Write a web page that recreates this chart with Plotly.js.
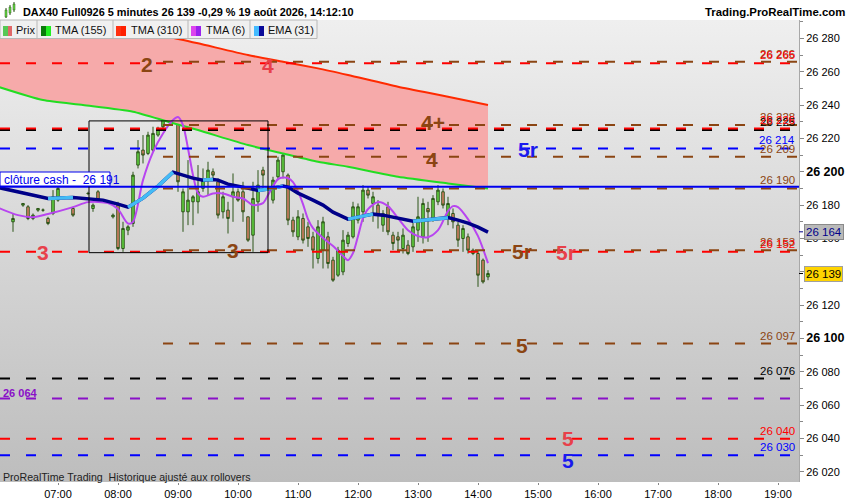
<!DOCTYPE html>
<html>
<head>
<meta charset="utf-8">
<script src="https://cdn.plot.ly/plotly-3.0.1.min.js"></script>
<style>
  html, body { margin: 0; padding: 0; background: #fff; }
  #chart { width: 850px; height: 500px; }
</style>
</head>
<body>
<div id="chart"></div>
<script>
const DAY = '2026-08-19 ';

// 5 minute bars, DAX40 Full0926
const barTimes = ['06:15','06:25','06:30','06:35','06:40','06:45','06:50','06:55','07:00','07:15',
	'07:30','07:35','07:40','07:55','08:00','08:05','08:10','08:15','08:20','08:25',
	'08:30','08:35','08:40','08:45','08:50','08:55','09:00','09:05','09:10','09:15',
	'09:20','09:25','09:30','09:35','09:40','09:45','09:50','09:55','10:00','10:05',
	'10:10','10:15','10:20','10:25','10:35','10:40','10:45','10:50','10:55','11:00',
	'11:05','11:10','11:15','11:20','11:25','11:30','11:35','11:40','11:45','11:50',
	'11:55','12:00','12:05','12:10','12:15','12:20','12:25','12:30','12:35','12:40',
	'12:45','12:50','12:55','13:00','13:05','13:10','13:15','13:20','13:25','13:30',
	'13:35','13:40','13:45','13:50','13:55','14:00','14:05','14:10'];
const barOpen = [26170,26180,26179,26172,26177,26177,26172,26175,26183,26178,
	26187,26178,26188,26173,26180,26154,26165,26169,26204,26213,
	26211,26213,26222,26227,26233,26239,26249,26176,26176,26182,
	26182,26190,26195,26200,26194,26176,26177,26185,26188,26188,
	26173,26162,26182,26201,26183,26197,26200,26198,26171,26161,
	26172,26167,26161,26148,26153,26161,26147,26138,26140,26157,
	26161,26171,26176,26189,26181,26180,26168,26179,26162,26161,
	26154,26156,26155,26165,26161,26178,26172,26182,26188,26173,
	26175,26168,26160,26161,26151,26151,26147,26137];
const barHigh = [26175,26181,26180,26175,26178,26178,26173,26189,26192,26179,
	26188,26181,26189,26175,26182,26170,26168,26200,26219,26222,
	26224,26227,26227,26239,26241,26264,26258,26190,26207,26186,
	26204,26202,26206,26202,26196,26188,26182,26199,26190,26194,
	26173,26194,26201,26203,26197,26209,26213,26199,26173,26177,
	26175,26170,26164,26171,26173,26164,26149,26155,26165,26164,
	26182,26181,26192,26191,26188,26183,26177,26182,26164,26164,
	26166,26159,26170,26185,26184,26182,26186,26192,26190,26185,
	26178,26170,26168,26163,26154,26153,26148,26141];
const barLow = [26164,26179,26171,26171,26176,26176,26168,26174,26182,26173,
	26186,26176,26182,26172,26153,26152,26162,26167,26202,26205,
	26210,26212,26221,26226,26232,26238,26188,26164,26168,26168,
	26175,26188,26186,26196,26172,26172,26163,26170,26182,26170,
	26158,26152,26176,26190,26181,26195,26196,26168,26161,26159,
	26157,26155,26142,26145,26142,26142,26134,26137,26138,26155,
	26160,26169,26170,26184,26170,26166,26164,26162,26153,26152,
	26151,26150,26152,26158,26157,26158,26170,26180,26178,26168,
	26166,26155,26152,26151,26150,26131,26133,26135];
const barClose = [26172,26181,26172,26174,26178,26177,26169,26185,26190,26174,
	26187,26180,26183,26174,26154,26166,26167,26198,26212,26210,
	26222,26223,26226,26236,26240,26250,26194,26188,26183,26185,
	26188,26195,26201,26198,26174,26185,26172,26188,26183,26176,
	26159,26184,26192,26198,26195,26207,26210,26171,26164,26173,
	26159,26160,26153,26167,26170,26145,26135,26153,26159,26162,
	26179,26179,26189,26186,26185,26174,26175,26164,26157,26159,
	26162,26151,26167,26173,26181,26176,26184,26189,26180,26181,
	26170,26159,26166,26153,26153,26138,26134,26139];

// TMA (155) and TMA (310)
const tmaSlowTimes = ['06:00','06:45','07:25','08:15','08:50','09:20','10:10','10:45','11:20','11:50','12:40','13:30','14:10'];
const tma155 = [26251,26243,26240,26236,26230,26225,26216,26211,26206,26203,26197,26193,26190];
const tma310 = [26302,26296,26291,26285,26281,26277,26270,26266,26262,26258,26251,26245,26240];

// TMA (6)
const tma6Times = ['06:00','06:20','06:35','06:50','07:15','07:30','07:50','08:00','08:10','08:15',
	'08:25','08:35','08:45','08:55','09:00','09:05','09:10','09:15','09:20','09:25',
	'09:35','09:45','09:55','10:05','10:15','10:25','10:30','10:35','10:40','10:45',
	'10:50','10:55','11:00','11:05','11:10','11:15','11:25','11:35','11:45','11:50',
	'11:55','12:00','12:05','12:10','12:20','12:30','12:40','12:50','13:00','13:10',
	'13:20','13:30','13:35','13:40','13:50','14:00','14:10'];
const tma6 = [26178.5,26174.0,26172.8,26174.7,26178.8,26181.8,26181.2,26177.6,26169.0,26170.0,
	26195.0,26211.8,26223.0,26231.0,26232.8,26228.0,26214.0,26198.0,26187.0,26185.0,
	26187.0,26187.0,26185.0,26184.0,26180.0,26181.2,26186.0,26191.4,26195.6,26196.5,
	26196.2,26193.8,26188.4,26180.6,26171.6,26166.2,26160.3,26155.5,26149.5,26147.0,
	26151.3,26161.4,26172.2,26177.6,26181.8,26179.4,26172.2,26165.0,26161.4,26160.8,
	26165.0,26176.4,26179.4,26178.8,26171.6,26161.4,26145.2];

// EMA (31)
const emaTimes = ['06:00','06:20','06:40','06:50','07:15','07:30','07:45','08:00','08:10','08:25',
	'08:40','08:55','09:05','09:15','09:25','09:35','09:40','09:50','10:05','10:20',
	'10:30','10:45','10:50','11:00','11:15','11:25','11:35','11:45','11:50','12:05',
	'12:15','12:25','12:35','12:45','12:55','13:05','13:15','13:25','13:30','13:40',
	'13:50','14:00','14:10'];
const ema31 = [26190.6,26188.0,26185.5,26184.0,26184.6,26183.6,26183.0,26180.6,26178.8,26184.2,
	26191.4,26199.8,26198.0,26196.2,26195.0,26195.4,26195.0,26192.6,26190.8,26188.8,
	26189.6,26191.4,26190.8,26187.2,26183.0,26180.0,26175.8,26172.8,26171.6,26173.4,
	26174.6,26174.0,26172.8,26171.3,26170.4,26171.0,26171.6,26172.2,26172.5,26171.0,
	26169.2,26166.8,26163.8];

// levels
const redLevels = [26265, 26226, 26152, 26040];
const brownLevels = [26266, 26228, 26209, 26190, 26153, 26097];
const blackLevels = [26225, 26076];
const blueLevels = [26214, 26030];
const purpleLevels = [26064];
const clotureCash = 26191;
const brownStart = '08:45';
const rangeBox = {t0: '07:31', t1: '10:30', lo: 26151.5, hi: 26230.5};
const lastPrice = 26139;
const lastEma = 26164;
const yTicks = [26020,26040,26060,26080,26100,26120,26140,26160,26180,26200,26220,26240,26260,26280];

const FONT = 'Arial, "Liberation Sans", sans-serif';
const RED = '#ff0000', BROWN = '#8b4513', BLUE = '#0000ff', PURPLE = '#8a10c8', BLACK = '#000000';

function fmt(v) {
	const s = String(Math.round(v));
	return s.slice(0, s.length - 3) + ' ' + s.slice(s.length - 3);
}
function stamp(list) { return list.map(function(t) { return DAY + t; }); }

// pixel helpers for decoration (plot area is 799 x 462, top at 20)
function px(x) { return x / 799; }
function py(y) { return (482 - y) / 462; }

// ema split: navy where falling, light blue where rising
const emaUp = ema31.map(function(v, i) {
	const rising = (i > 0 && ema31[i] > ema31[i - 1]) || (i < ema31.length - 1 && ema31[i + 1] > ema31[i]);
	return rising ? v : null;
});

const data = [
	{
		x: stamp(tmaSlowTimes), y: tma155, type: 'scatter', mode: 'lines',
		line: {color: '#22dd22', width: 2, shape: 'spline', smoothing: 0.6}, hoverinfo: 'skip'
	},
	{
		x: stamp(tmaSlowTimes), y: tma310, type: 'scatter', mode: 'lines', fill: 'tonexty',
		fillcolor: '#f6aaaa', line: {color: '#ff2a00', width: 2, shape: 'spline', smoothing: 0.6}, hoverinfo: 'skip'
	},
	{
		type: 'candlestick', x: stamp(barTimes),
		open: barOpen, high: barHigh, low: barLow, close: barClose,
		increasing: {line: {color: '#2c5418', width: 1}, fillcolor: '#66dd44'},
		decreasing: {line: {color: '#2c5418', width: 1}, fillcolor: '#e8846c'},
		whiskerwidth: 0, hoverinfo: 'skip'
	},
	{
		x: stamp(tma6Times), y: tma6, type: 'scatter', mode: 'lines',
		line: {color: '#b845f0', width: 2, shape: 'spline', smoothing: 0.8}, hoverinfo: 'skip'
	},
	{
		x: stamp(emaTimes), y: ema31, type: 'scatter', mode: 'lines',
		line: {color: '#000088', width: 3.5}, hoverinfo: 'skip'
	},
	{
		x: stamp(emaTimes), y: emaUp, type: 'scatter', mode: 'lines', connectgaps: false,
		line: {color: '#44bbf5', width: 3.5}, hoverinfo: 'skip'
	}
];

const shapes = [];
function level(price, color, start, width, dash) {
	shapes.push({
		type: 'line', xref: 'x', yref: 'y', x0: start, x1: DAY + '19:21', y0: price, y1: price,
		line: {color: color, width: width, dash: dash}, layer: 'above'
	});
}
const START = DAY + '06:02';
purpleLevels.forEach(function(p) { level(p, PURPLE, START, 2, '10px,16px'); });
blackLevels.forEach(function(p) { level(p, BLACK, START, 2, '10px,16px'); });
blueLevels.forEach(function(p) { level(p, BLUE, START, 2, '10px,16px'); });
redLevels.forEach(function(p) { level(p, RED, START, 2, '10px,16px'); });
brownLevels.forEach(function(p) { level(p, BROWN, DAY + brownStart, 2, '10px,16px'); });
level(clotureCash, '#0000ee', START, 2, 'solid');

shapes.push({
	type: 'rect', xref: 'x', yref: 'y', x0: DAY + rangeBox.t0, x1: DAY + rangeBox.t1,
	y0: rangeBox.lo, y1: rangeBox.hi, line: {color: '#000', width: 1}, layer: 'above'
});

// cloture cash box
shapes.push({type: 'rect', xref: 'paper', yref: 'paper', x0: px(0), x1: px(110), y0: py(186), y1: py(172),
	fillcolor: '#ffffff', line: {color: '#0000ee', width: 1}, layer: 'above'});

// legend row
shapes.push({type: 'rect', xref: 'paper', yref: 'paper', x0: 0, x1: px(317), y0: py(38.5), y1: py(20),
	fillcolor: '#f0f0f0', line: {color: '#b8b8b8', width: 1}, layer: 'above'});
[37, 113, 188, 250].forEach(function(x) {
	shapes.push({type: 'line', xref: 'paper', yref: 'paper', x0: px(x), x1: px(x), y0: py(38), y1: py(20),
		line: {color: '#b8b8b8', width: 1}, layer: 'above'});
});
const icons = [
	[3, 8, '#55c855'], [8, 12, '#e06868'],
	[41, 46, '#0a7a0a'], [46, 51, '#22ee22'],
	[116, 121, '#ff3010'], [121, 126, '#ff2000'],
	[191, 196, '#dd44ee'], [196, 201, '#9a22ee'],
	[254, 259, '#44bbff'], [259, 264, '#0a0a99']
];
icons.forEach(function(ic) {
	shapes.push({type: 'rect', xref: 'paper', yref: 'paper', x0: px(ic[0]), x1: px(ic[1]), y0: py(36), y1: py(26),
		fillcolor: ic[2], line: {width: 0}, layer: 'above'});
});

// header candle icon
[[5, 7, 10, 17, 8, 18], [9, 11, 7, 13, 5, 15], [13, 15, 4, 10, 2, 12]].forEach(function(c) {
	shapes.push({type: 'line', xref: 'paper', yref: 'paper', x0: px(c[0] + 1), x1: px(c[0] + 1), y0: py(c[5]), y1: py(c[4]),
		line: {color: '#2c5418', width: 1}, layer: 'above'});
	shapes.push({type: 'rect', xref: 'paper', yref: 'paper', x0: px(c[0]), x1: px(c[1]), y0: py(c[3]), y1: py(c[2]),
		fillcolor: '#66dd44', line: {color: '#2c5418', width: 0.5}, layer: 'above'});
});

// small axis marks for last values
[[lastEma, '#000088'], [lastPrice, '#000']].forEach(function(m) {
	shapes.push({type: 'line', xref: 'paper', yref: 'y', x0: 1, x1: px(803), y0: m[0], y1: m[0],
		line: {color: m[1], width: 1}});
});

const annotations = [];
function txt(text, x, y, size, color, anchor, bold) {
	annotations.push({
		xref: 'paper', yref: 'paper', x: px(x), y: py(y), xanchor: anchor || 'left', yanchor: 'middle',
		text: bold ? '<b>' + text + '</b>' : text, showarrow: false,
		font: {family: FONT, size: size, color: color}
	});
}
txt('DAX40 Full0926 5 minutes 26 139 -0,29 % 19 août 2026, 14:12:10', 21, 12, 10.9, '#000', 'left', true);
txt('Trading.ProRealTime.com', 847, 12, 11.4, '#000', 'right', true);
txt('Prix', 14, 30, 11, '#111');
txt('TMA (155)', 53, 30, 11, '#111');
txt('TMA (310)', 129, 30, 11, '#111');
txt('TMA (6)', 204, 30, 11, '#111');
txt('EMA (31)', 266, 30, 11, '#111');
txt('clôture cash -  ' + fmt(clotureCash), 2, 179.5, 12, '#0000ee');
txt('ProRealTime Trading  Historique ajusté aux rollovers', 1, 477, 10.6, '#222');
txt(fmt(purpleLevels[0]), 1, 392.5, 11, PURPLE, 'left', true);

// big tags
const tagRed = '#e8404a';
txt('2', 147, 64, 21, BROWN, 'center', true);
txt('4', 267.5, 66, 21, tagRed, 'center', true);
txt('4+', 433, 123, 21, BROWN, 'center', true);
txt('4', 432, 159, 21, BROWN, 'center', true);
txt('5r', 528, 149, 21, '#1a1aee', 'center', true);
txt('3', 42.5, 252, 21, tagRed, 'center', true);
txt('3', 232.5, 250, 21, BROWN, 'center', true);
txt('5r', 522, 251.5, 21, BROWN, 'center', true);
txt('5r', 566, 253, 21, tagRed, 'center', true);
txt('5', 522, 345, 21, BROWN, 'center', true);
txt('5', 567.5, 438, 21, tagRed, 'center', true);
txt('5', 567.5, 460, 21, '#1a1aee', 'center', true);

// level values on the right
function lvl(price, color) {
	annotations.push({
		xref: 'paper', yref: 'y', x: px(797), y: price, xanchor: 'right', yanchor: 'bottom', yshift: 0,
		text: fmt(price), showarrow: false, font: {family: FONT, size: 11.5, color: color}
	});
}
lvl(26266, BROWN); lvl(26265, RED);
lvl(26228, BROWN); lvl(26225, BLACK); lvl(26226, RED);
lvl(26209, BROWN); lvl(26214, BLUE);
lvl(26190, BROWN);
lvl(26153, BROWN); lvl(26152, RED);
lvl(26097, BROWN); lvl(26076, BLACK);
lvl(26040, RED); lvl(26030, BLUE);

// last value boxes on the axis
annotations.push({xref: 'paper', yref: 'y', x: px(804), y: lastEma, xanchor: 'left', yanchor: 'middle',
	text: fmt(lastEma), showarrow: false, bgcolor: '#b9b9b9', bordercolor: '#8a8a8a', borderwidth: 1, borderpad: 1,
	font: {family: FONT, size: 11.5, color: '#000088'}});
annotations.push({xref: 'paper', yref: 'y', x: px(804), y: lastPrice, xanchor: 'left', yanchor: 'middle',
	text: fmt(lastPrice), showarrow: false, bgcolor: '#ffd400', bordercolor: '#a0a0a0', borderwidth: 1, borderpad: 1,
	font: {family: FONT, size: 11.5, color: '#000'}});

const bgSvg = '<svg xmlns="http://www.w3.org/2000/svg" viewBox="0 0 10 100" width="10" height="100" preserveAspectRatio="none">' +
	'<defs><linearGradient id="g" x1="0" y1="0" x2="0" y2="1"><stop offset="0" stop-color="#efefef"/>' +
	'<stop offset="1" stop-color="#bdbdbd"/></linearGradient></defs><rect width="10" height="100" fill="url(#g)"/></svg>';

const layout = {
	width: 850, height: 500,
	margin: {l: 0, r: 51, t: 20, b: 18, pad: 0},
	paper_bgcolor: '#ffffff',
	plot_bgcolor: 'rgba(0,0,0,0)',
	showlegend: false,
	images: [{
		source: 'data:image/svg+xml;charset=utf-8,' + encodeURIComponent(bgSvg),
		xref: 'paper', yref: 'paper', x: 0, y: 1, sizex: 1, sizey: 1,
		sizing: 'stretch', xanchor: 'left', yanchor: 'top', layer: 'below'
	}],
	xaxis: {
		type: 'date', range: [DAY + '06:02', DAY + '19:21'],
		tick0: DAY + '07:00', dtick: 3600000, tickformat: '%H:%M',
		ticks: 'outside', ticklen: 2, tickcolor: '#888',
		showgrid: false, zeroline: false, showline: false,
		rangeslider: {visible: false},
		tickfont: {family: FONT, size: 11, color: '#000'}
	},
	yaxis: {
		side: 'right', range: [26014, 26291],
		tickvals: yTicks,
		ticktext: yTicks.map(function(v) {
			return (v % 100 === 0) ? '<span style="font-size:12.5px"><b>' + fmt(v) + '</b></span>' : fmt(v);
		}),
		ticks: 'outside', ticklen: 4, tickcolor: '#888',
		minor: {dtick: 10, tick0: 26010, ticks: 'outside', ticklen: 3, tickcolor: '#888', showgrid: false},
		showline: true, linecolor: '#a8a8a8', linewidth: 1,
		showgrid: false, zeroline: false,
		tickfont: {family: FONT, size: 11, color: '#000'}
	},
	shapes: shapes,
	annotations: annotations
};

Plotly.newPlot('chart', data, layout, {staticPlot: true, displayModeBar: false});
</script>
</body>
</html>
